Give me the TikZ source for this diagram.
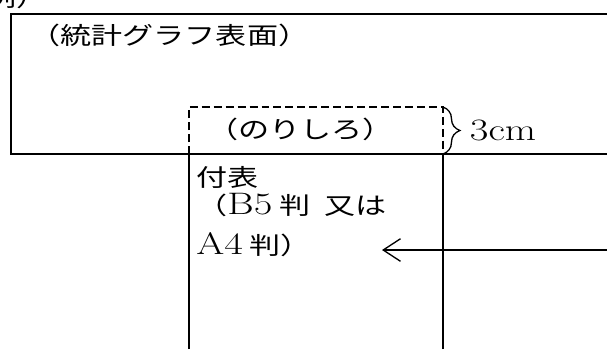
\documentclass[tikz,border=0pt]{standalone}
\usepackage{fontspec}
\usepackage{graphicx}
\setmainfont{Latin Modern Roman}[Scale=1.3]
\newfontfamily\cjk{Noto Sans CJK JP}
\usetikzlibrary{decorations.pathreplacing,arrows.meta}
\newcommand{\widetxt}[1]{\scalebox{1.3}[1]{#1}}
\tikzset{
    boxline/.style={line width=1.5pt},
    txt/.style={inner sep=0pt, font=\fontsize{18}{21}\selectfont},
}
\begin{document}
\begin{tikzpicture}
        \useasboundingbox (0,0) rectangle (16.06,9.234);

        % Rei (cut at top)
        \node[txt, anchor=west] (rei) at (-0.4,9.31) {\widetxt{\cjk 例）}};

        % Hyomen
        \coordinate (omote-nw) at (0.278,8.864);
        \coordinate (omote-sw) at (0.278,5.159);
        \draw[boxline] (16.06,8.864) -- (omote-nw) -- (omote-sw) -- (16.06,5.159);
        \node[txt] (omote) at (4.48,8.308) {\widetxt{\cjk （統計グラフ表面）}};

        % Norishiro
        \coordinate (nori-nw) at (5.0,6.403);
        \coordinate (nori-ne) at (11.72,6.403);
        \coordinate (nori-se) at (11.72,5.159);
        \draw[line width=1.1pt, dash pattern=on 6pt off 3pt]
            (5.0,5.159) -- (nori-nw) -- (nori-ne) -- (nori-se);
        \node[txt] (nori) at (7.95,5.82) {\widetxt{\cjk （のりしろ）}};
        \draw[line width=1pt, decorate, decoration={brace, amplitude=0.45cm}]
            (nori-ne) -- (nori-se);
        \node[txt] (haba) at (13.31,5.794) {\widetxt{3cm}};

        % Fuhyo
        \draw[boxline] (5.0,0) -- (5.0,5.159);
        \draw[boxline] (11.72,0) -- (11.72,5.159);
        \foreach \i/\y/\val in {
            1/4.53/{\cjk 付表},
            2/3.80/{{\cjk （}B5\,{\cjk 判}\hspace{.35em}{\cjk 又は}},
            3/2.76/{A4\,{\cjk 判）}}
            } {
            \node[txt, anchor=west] (fuhyo\i) at (5.186,\y) {\widetxt{\val}};
        }

        % Yajirushi
        \coordinate (ya-start) at (16.06,2.619);
        \coordinate (ya-end) at (10.107,2.619);
        \draw[line width=1pt, -{Straight Barb[length=13pt, width=17pt]}] (ya-start) -- (ya-end);
    \end{tikzpicture}
\end{document}
